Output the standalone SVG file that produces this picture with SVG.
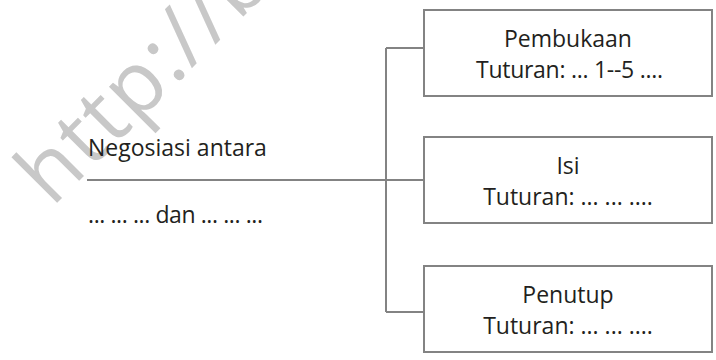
<svg xmlns="http://www.w3.org/2000/svg" width="716" height="360" viewBox="0 0 716 360">
<style>
.box{fill:#fff;stroke:#838383;stroke-width:2}
.ln{fill:none;stroke:#838383;stroke-width:2}
.t{font-family:"Open Sans","Noto Sans",sans-serif;font-size:23px;fill:#231f20}
.c{text-anchor:middle}
.wm{font-family:"Open Sans","Noto Sans",sans-serif;font-size:85px;letter-spacing:2px;fill:#c8c8c8}
</style>
<rect width="716" height="360" fill="#fff"/>
<text class="wm" transform="translate(52,208) rotate(-45)">http://b</text>
<g id="connectors">
<path class="ln" d="M87 180H386M386 48V312M386 48H424M386 180H424M386 312H424"/>
</g>
<g id="root">
<text class="t" x="88" y="156">Negosiasi antara</text>
<text class="t" x="88" y="223" textLength="175" lengthAdjust="spacing">... ... ... dan ... ... ...</text>
</g>
<g id="pembukaan">
<rect class="box" x="424" y="10" width="288" height="86"/>
<text class="t c" x="568" y="46.5">Pembukaan</text>
<text class="t c" x="569.5" y="78" textLength="187" lengthAdjust="spacing">Tuturan: ... 1--5 ....</text>
</g>
<g id="isi">
<rect class="box" x="424" y="137" width="288" height="86"/>
<text class="t c" x="568" y="173.5">Isi</text>
<text class="t c" x="568" y="205">Tuturan: ... ... ....</text>
</g>
<g id="penutup">
<rect class="box" x="424" y="266" width="288" height="86"/>
<text class="t c" x="568" y="302.5">Penutup</text>
<text class="t c" x="568" y="334">Tuturan: ... ... ....</text>
</g>
</svg>
